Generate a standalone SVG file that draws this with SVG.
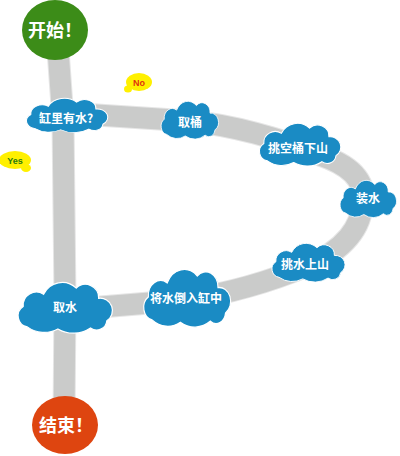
<svg xmlns="http://www.w3.org/2000/svg" xmlns:xlink="http://www.w3.org/1999/xlink" width="400" height="456" viewBox="0 0 400 456">
<style>
.band{fill:none;stroke:#cacbca;stroke-width:21;stroke-linejoin:round}
.bandedge{fill:none;stroke:#e6e6e6;stroke-width:23;stroke-linejoin:round}
.cloud{fill:#1a8bc4;stroke:#ffffff;stroke-width:1.2;vector-effect:non-scaling-stroke}
.ct{font-family:"Noto Sans CJK SC","Noto Sans",sans-serif;font-weight:bold;font-size:12px;fill:#ffffff;text-anchor:middle}
.big{font-family:"Noto Sans CJK SC","Noto Sans",sans-serif;font-weight:bold;font-size:18px;fill:#ffffff;text-anchor:middle}
.lbl{font-family:"Liberation Sans","Noto Sans",sans-serif;font-weight:bold;font-size:9px;text-anchor:middle}
.blob{fill:#fff000}
</style>
<defs>
<path id="cl" d="M14,44 A11,11 0 0 1 10,24 A13,13 0 0 1 30,12 A20,20 0 0 1 62,6 A13,13 0 0 1 84,16 A12,12 0 0 1 92,38 A10,10 0 0 1 76,45 A30,30 0 0 1 44,46 A28,28 0 0 1 14,44 Z"/>
</defs>
<g id="connectors">
<path class="bandedge" d="M58,50 L63,120 L65,300 L64,420"/>
<path class="bandedge" d="M66,113 L190,121 C230,125 280,138 320,155 C358,168 366,186 362,203 C362,226 345,250 307,266 Q250,290 186,300 L64,310"/>
<path class="band" d="M58,50 L63,120 L65,300 L64,420"/>
<path class="band" d="M66,113 L190,121 C230,125 280,138 320,155 C358,168 366,186 362,203 C362,226 345,250 307,266 Q250,290 186,300 L64,310"/>
</g>
<g id="start">
<ellipse cx="55" cy="30" rx="33" ry="30" fill="#3c8c18"/>
<text class="big" x="55" y="37">开始！</text>
</g>
<g id="end">
<ellipse cx="65" cy="425" rx="33" ry="29" fill="#de4510"/>
<text class="big" x="66" y="432">结束！</text>
</g>
<g id="label-no">
<ellipse class="blob" cx="139" cy="82" rx="13" ry="9"/>
<ellipse class="blob" cx="128" cy="89" rx="4" ry="3.5"/>
<text class="lbl" x="139" y="86" fill="#e03010">No</text>
</g>
<g id="label-yes">
<ellipse class="blob" cx="15" cy="160" rx="16" ry="9"/>
<ellipse class="blob" cx="26" cy="168" rx="5" ry="4"/>
<text class="lbl" x="15" y="164" fill="#2a7a10">Yes</text>
</g>
<g id="n1">
<use xlink:href="#cl" class="cloud" transform="translate(22,98) scale(0.88,0.69)"/>
<text class="ct" x="66" y="123">缸里有水?</text>
</g>
<g id="n2">
<use xlink:href="#cl" class="cloud" transform="translate(158,101) scale(0.62,0.76)"/>
<text class="ct" x="190" y="127">取桶</text>
</g>
<g id="n3">
<use xlink:href="#cl" class="cloud" transform="translate(255,123) scale(0.88,0.86)"/>
<text class="ct" x="298" y="153">挑空桶下山</text>
</g>
<g id="n4">
<use xlink:href="#cl" class="cloud" transform="translate(337,180) scale(0.61,0.75)"/>
<text class="ct" x="368" y="203">装水</text>
</g>
<g id="n5">
<use xlink:href="#cl" class="cloud" transform="translate(268,243) scale(0.79,0.78)"/>
<text class="ct" x="305" y="269">挑水上山</text>
</g>
<g id="n6">
<use xlink:href="#cl" class="cloud" transform="translate(139,269) scale(0.94,1.16)"/>
<text class="ct" x="186" y="303">将水倒入缸中</text>
</g>
<g id="n7">
<use xlink:href="#cl" class="cloud" transform="translate(13,282) scale(1.02,1.02)"/>
<text class="ct" x="65" y="312">取水</text>
</g>
</svg>
